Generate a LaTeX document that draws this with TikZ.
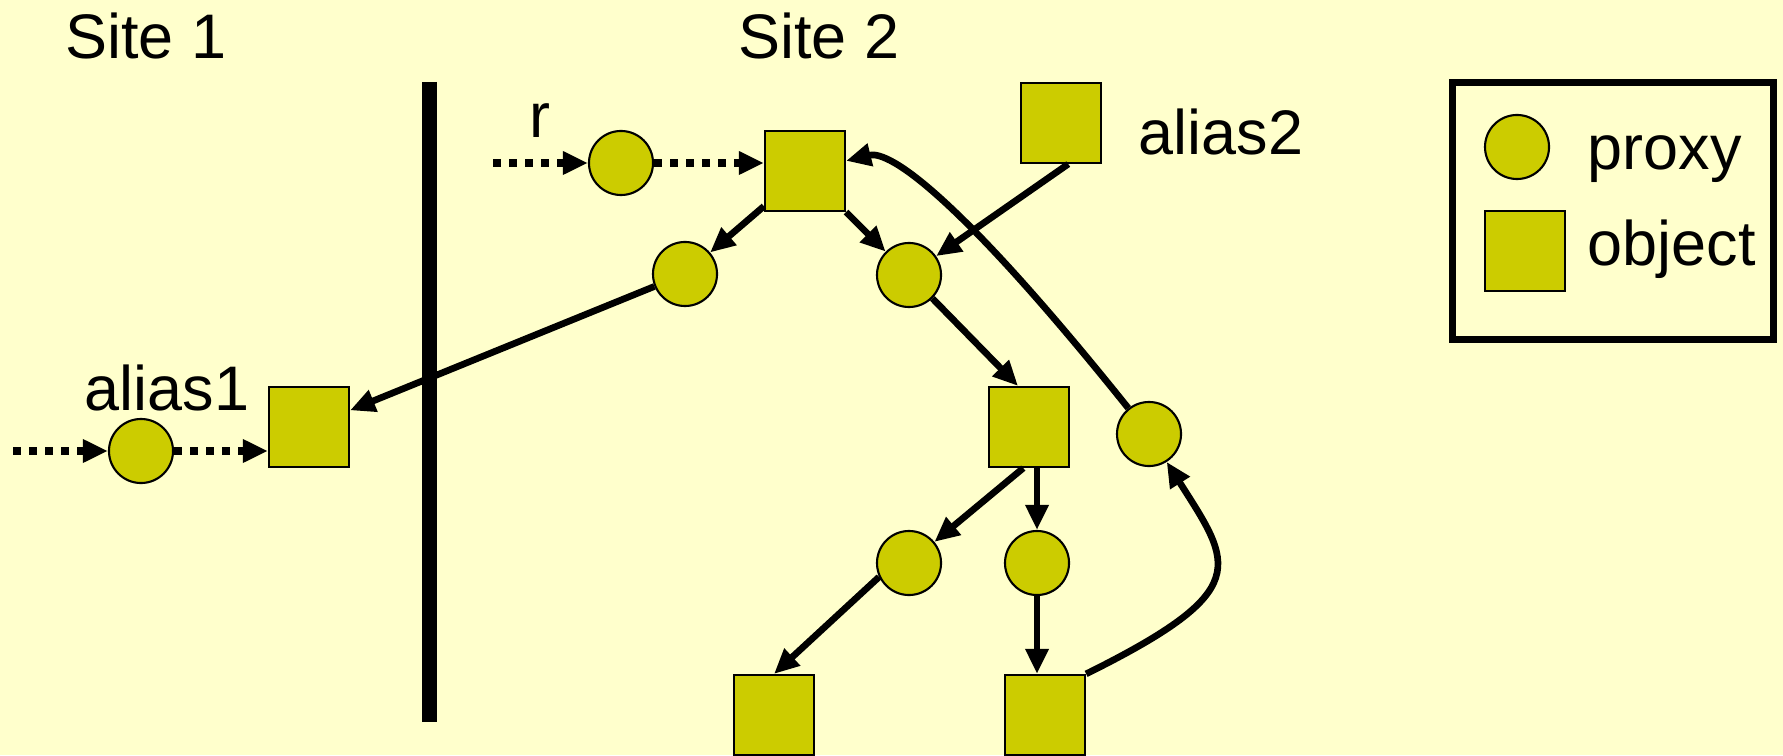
\documentclass[tikz,border=0pt]{standalone}
\usepackage{fontspec}
\setmainfont{Liberation Sans}
\usetikzlibrary{arrows.meta}
\definecolor{paper}{HTML}{FFFFCC}
\definecolor{nodefill}{HTML}{CCCC00}
\begin{document}
\begin{tikzpicture}[
	x=0.01cm, y=-0.01cm,
	proxy/.style={circle, draw, line width=0.6pt, fill=nodefill, minimum size=6.4mm, inner sep=0pt},
	obj/.style={rectangle, draw, line width=0.6pt, fill=nodefill, minimum size=8mm, inner sep=0pt},
	lbl/.style={font=\fontsize{17.9}{21}\selectfont, inner sep=0pt},
	>={Triangle[length=2.5mm, width=2.2mm]}
	]
	
	\fill[paper] (0,0) rectangle (1783,755);
	\useasboundingbox (0,0) rectangle (1783,755);
	
	%-----------------------
	% Site labels and wall
	%-----------------------
	\node[lbl, anchor=base] (site1) at (146,59) {Site 1};
	\node[lbl, anchor=base] (site2) at (819,59) {Site 2};
	\draw[line width=1.5mm] (429,82) -- (429,722);
	
	%-----------------------
	% Proxies
	%-----------------------
	\node[proxy] (P-r)  at (621,163) {};
	\node[proxy] (P-a1) at (141,451) {};
	\node[proxy] (P-1)  at (685,274) {};
	\node[proxy] (P-2)  at (909,275) {};
	\node[proxy] (P-3)  at (1149,434) {};
	\node[proxy] (P-4)  at (909,563) {};
	\node[proxy] (P-5)  at (1037,563) {};
	
	%-----------------------
	% Objects
	%-----------------------
	\node[obj] (O-1)  at (805,171) {};
	\node[obj] (O-a1) at (309,427) {};
	\node[obj] (O-a2) at (1061,123) {};
	\node[obj] (O-2)  at (1029,427) {};
	\node[obj] (O-3)  at (774,715) {};
	\node[obj] (O-4)  at (1045,715) {};
	
	%-----------------------
	% Names
	%-----------------------
	\node[lbl, anchor=base] (name-r) at (540,138) {r};
	\node[lbl, anchor=base] (name-a1) at (167,410) {alias1};
	\node[lbl, anchor=base west] (name-a2) at (1138,155) {alias2};
	
	%-----------------------
	% Legend
	%-----------------------
	\node[draw, line width=0.7mm, minimum width=3.21cm, minimum height=2.57cm, inner sep=0pt] (legend) at (1613,211) {};
	\node[proxy] (key-p) at (1517,147) {};
	\node[obj] (key-o) at (1525,251) {};
	\node[lbl, anchor=base west] (key-p-txt) at (1587,170) {proxy};
	\node[lbl, anchor=base west] (key-o-txt) at (1587,265) {object};
	
	%-----------------------
	% Connections
	%-----------------------
	\tikzset{connect/.style={->, line width=1.9pt},
		remote/.style={->, line width=2.3pt, dash pattern=on 0.8mm off 0.8mm}}
	
	% incoming references (dotted)
	\coordinate (in-r) at (493,163);
	\coordinate (in-a1) at (13,451);
	\draw[remote] (in-r) -- (P-r);
	\draw[remote] (P-r) -- (P-r -| O-1.west);
	\draw[remote] (in-a1) -- (P-a1);
	\draw[remote] (P-a1) -- (P-a1 -| O-a1.west);
	
	% object graph
	\draw[connect] (O-1) -- (P-1);
	\draw[connect] (O-1) -- (P-2);
	\draw[connect] (O-a2.-80) -- (P-2);
	\draw[connect] (P-2.-45) -- (O-2.105);
	\draw[connect] (P-1) -- (O-a1);
	\draw[connect] (O-2.-98) -- (P-4);
	\draw[connect] (O-2.south -| P-5) -- (P-5);
	\draw[connect] (P-4.205) -- (O-3.north);
	\draw[connect] (P-5) -- (P-5 |- O-4.north);
	
	% cycle back
	\draw[connect] (O-4.north east) .. controls (1255,590) and (1232,565) .. (P-3);
	\draw[connect] (P-3) .. controls (959,197) and (890,150) .. (O-1);
	
\end{tikzpicture}
\end{document}
